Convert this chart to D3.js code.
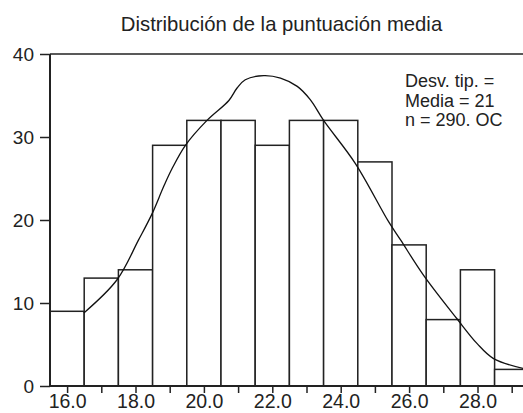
<!DOCTYPE html>
<html><head><meta charset="utf-8">
<script src="https://cdn.jsdelivr.net/npm/d3@7"></script>
<style>
body{margin:0;background:#fff;}
svg{display:block;}
text{font-family:"Liberation Sans",Arial,sans-serif;fill:#222;}
</style></head>
<body>
<svg id="c" width="523" height="413"></svg>
<script>
// Data
const binStarts = [15.5,16.5,17.5,18.5,19.5,20.5,21.5,22.5,23.5,24.5,25.5,26.5,27.5,28.5];
const counts    = [9,13,14,29,32,32,29,32,32,27,17,8,14,2];
const curveX = [16.49,17.46,18.09,18.49,18.82,19.07,19.46,20.09,20.73,20.97,21.21,21.75,22.24,22.73,23.11,23.5,24.43,25.4,25.75,26.43,27.4,27.99,28.47,29.35];
const curveY = [8.8,12.8,17.6,20.8,24.0,26.2,29.0,32.0,34.4,35.9,36.9,37.4,37.1,36.1,34.5,32.0,26.8,19.8,17.6,13.3,8.1,5.1,3.3,2.1];
const yTicks = [0,10,20,30,40];
const xTicks = [16,17,18,19,20,21,22,23,24,25,26,27,28,29];
const xLabels = ["16.0","","18.0","","20.0","","22.0","","24.0","","26.0","","28.0",""];
const title = "Distribución de la puntuación media";
const notes = ["Desv. tip. =","Media = 21","n = 290. OC"];
const binWidth = 1;

const svg = d3.select("#c");
const x = d3.scaleLinear().domain([15.5,29.5]).range([50,528.8]);
const y = d3.scaleLinear().domain([0,40]).range([386,54]);

// bars
svg.append("g").selectAll("rect").data(counts).join("rect")
  .attr("x",(d,i)=>x(binStarts[i]))
  .attr("y",d=>y(d))
  .attr("width",(d,i)=>x(binStarts[i]+binWidth)-x(binStarts[i]))
  .attr("height",d=>y(0)-y(d))
  .attr("fill","#fff").attr("stroke","#222").attr("stroke-width",1.5);

// curve
const pts = curveX.map((v,i)=>[v,curveY[i]]);
svg.append("path").datum(pts)
  .attr("d",d3.line().x(d=>x(d[0])).y(d=>y(d[1])).curve(d3.curveCatmullRom))
  .attr("fill","none").attr("stroke","#111").attr("stroke-width",1.3);

// top frame
svg.append("line").attr("x1",x(15.5)).attr("x2",523).attr("y1",y(40)).attr("y2",y(40))
  .attr("stroke","#222").attr("stroke-width",1.6);

// axes
const ya = svg.append("g").attr("transform",`translate(${x(15.5)},0)`)
  .call(d3.axisLeft(y).tickValues(yTicks).tickSize(10).tickPadding(6).tickFormat(d3.format("d")));
const xa = svg.append("g").attr("transform",`translate(0,${y(0)})`)
  .call(d3.axisBottom(x).tickValues(xTicks).tickSize(7).tickPadding(4).tickFormat((d,i)=>xLabels[i]));
[ya,xa].forEach(g=>{
  g.select(".domain").attr("stroke","#222").attr("stroke-width",2);
  g.selectAll(".tick line").attr("stroke","#222").attr("stroke-width",1.5);
  g.selectAll("text").attr("fill","#222")
    .attr("font-family","'Liberation Sans',Arial,sans-serif");
});
ya.selectAll("text").attr("font-size",19);
xa.selectAll("text").attr("font-size",19.5).attr("dy",null).attr("y",21.5);
xa.select(".domain").attr("d",`M${x(15.5)},0H523`);
ya.select(".domain").attr("d",`M0,${y(40)}V${y(0)}`);

// title
svg.append("text").attr("x",281.5).attr("y",31).attr("text-anchor","middle")
  .attr("font-size",20.3).text(title);

// notes
svg.append("g").selectAll("text").data(notes).join("text")
  .attr("x",405).attr("y",(d,i)=>87+i*19.7).attr("font-size",18).text(d=>d);
</script>
</body></html>
